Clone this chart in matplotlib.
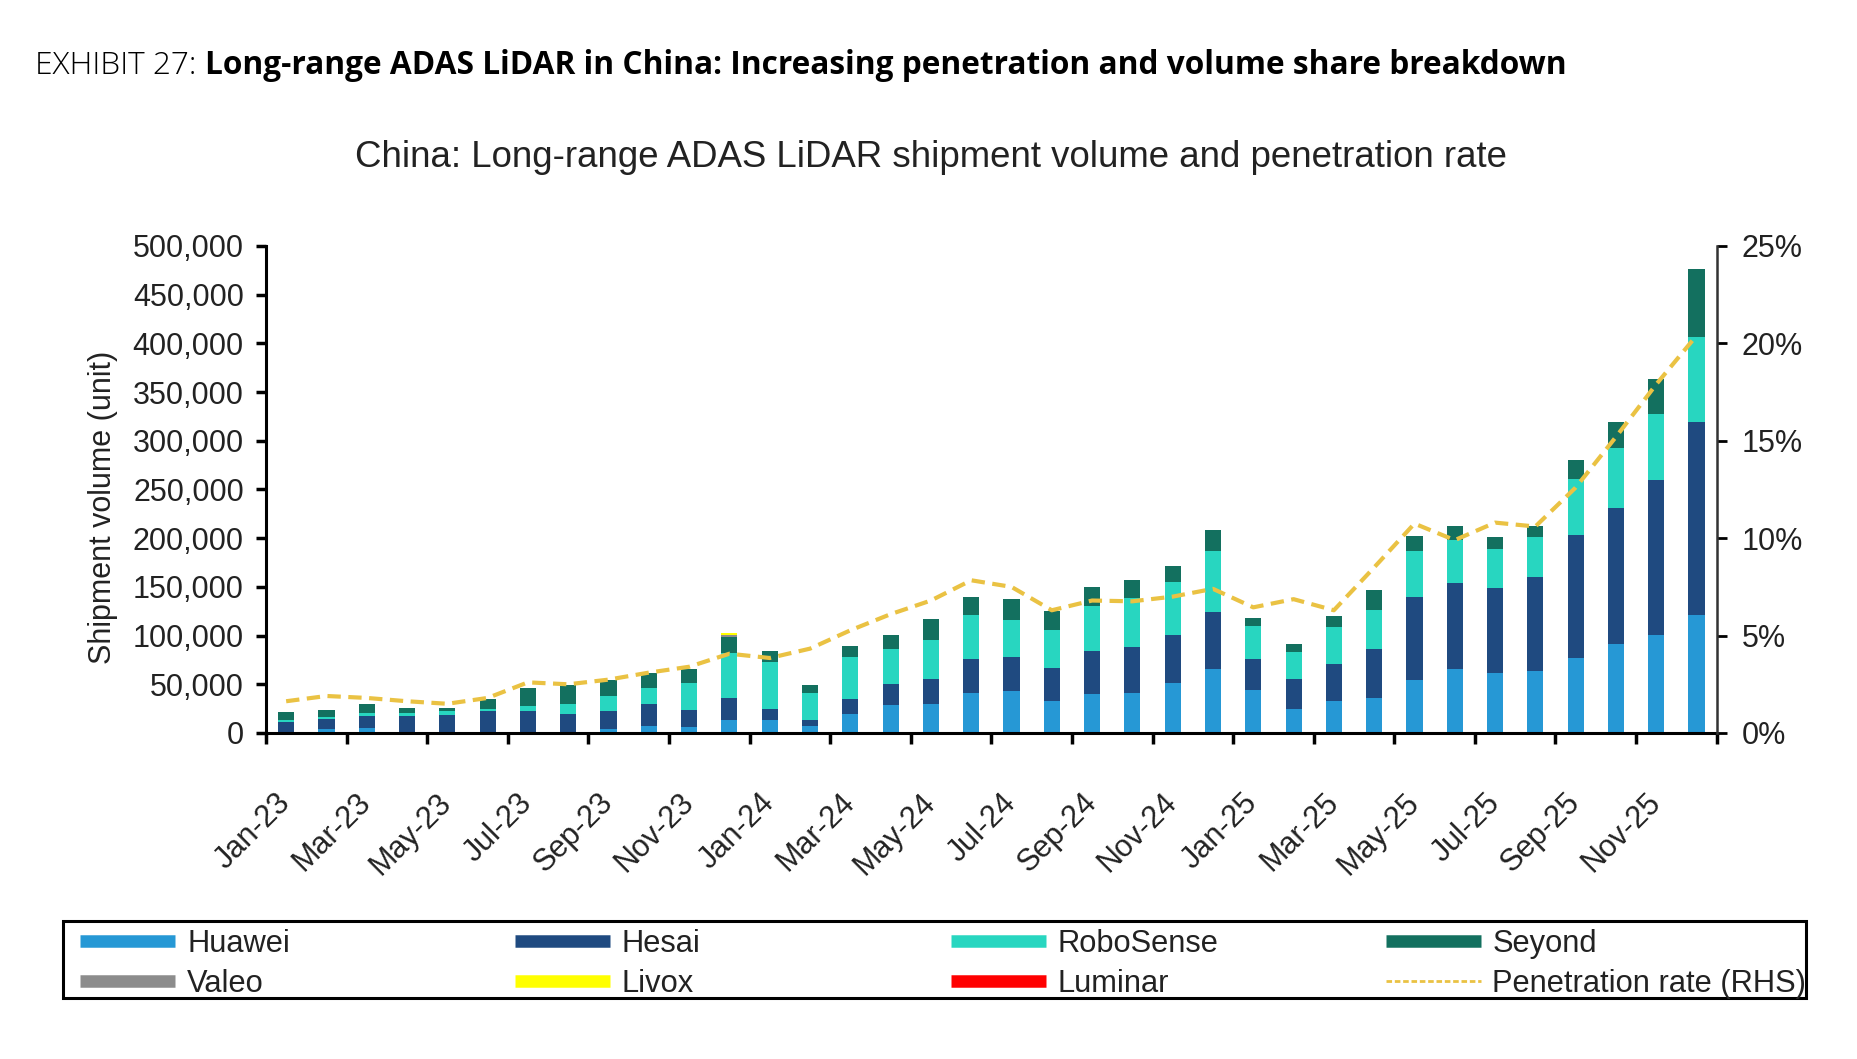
import numpy as np
import matplotlib
matplotlib.use("Agg")
import matplotlib.pyplot as plt
from matplotlib.lines import Line2D
from matplotlib.patches import Rectangle
from matplotlib.ticker import FuncFormatter, FixedLocator

# months Jan-23 .. Dec-25
months = [f"{m}-{y}" for y in ("23", "24", "25")
          for m in ("Jan", "Feb", "Mar", "Apr", "May", "Jun",
                    "Jul", "Aug", "Sep", "Oct", "Nov", "Dec")]

# shipment volume, thousand units
huawei = [1, 4, 5, 1.5, 1, 1, 1, 0.5, 4, 7, 6, 13.7,
          13.7, 6.8, 19.2, 29, 29.4, 41, 43.1, 32.9, 39.7, 41, 51.3, 65.7,
          43.8, 24.3, 32.5, 36.3, 54.8, 65.4, 61.9, 63.3, 77.3, 91, 100.3, 120.8]
hesai = [10, 10, 12, 16, 17, 21.5, 21.5, 19, 18.5, 23, 18, 22.5,
         10.6, 6.2, 15.7, 20.9, 25.7, 34.9, 34.9, 33.5, 44.5, 47.2, 48.9, 58.5,
         32.5, 30.8, 38.7, 50.3, 85.2, 88.3, 86.6, 96.9, 126.3, 140.3, 159.1, 198.5]
robosense = [2, 2, 4, 3.5, 4.5, 2.5, 5, 10, 15, 15.7, 27.7, 46,
             48.6, 28.4, 42.8, 36.3, 40, 44.8, 37.6, 39.7, 45.9, 50, 54.8, 62.3,
             33.5, 28.4, 37.6, 39.4, 46.5, 44.1, 40, 41.1, 56.8, 61.6, 67.8, 87.3]
seyond = [8.5, 8, 8.5, 5, 3.5, 10, 18.5, 19.5, 16.5, 15.5, 14.4, 16.5,
          11, 8.2, 12, 14.4, 22.2, 19.2, 21.6, 18.8, 19.8, 18.5, 16.4, 22.2,
          8.6, 7.5, 11, 21.2, 16.1, 15, 12.7, 11.6, 20.2, 26.4, 36.6, 69.8]
valeo = [0] * 11 + [1.8] + [0] * 24
livox = [0] * 11 + [2.5] + [0] * 24
luminar = [0] * 36

# penetration rate, %
penetration = [1.63, 1.9, 1.8, 1.63, 1.5, 1.8, 2.6, 2.5, 2.74, 3.1, 3.4, 4.07,
               3.85, 4.33, 5.27, 6.1, 6.8, 7.84, 7.5, 6.3, 6.8, 6.76, 7.0, 7.4,
               6.45, 6.87, 6.3, 8.5, 10.75, 9.9, 10.8, 10.6, 12.6, 15.2, 17.9, 20.4]

series = [("Huawei", huawei, "#2698D5"),
          ("Hesai", hesai, "#1F4A80"),
          ("RoboSense", robosense, "#28D6C0"),
          ("Seyond", seyond, "#13705F"),
          ("Valeo", valeo, "#8C8C8C"),
          ("Livox", livox, "#FFFF00"),
          ("Luminar", luminar, "#FF0000")]
line_col = "#EAC243"

plt.rcParams["font.family"] = ["Liberation Sans", "DejaVu Sans"]
txt_col = "#222222"

fig = plt.figure(figsize=(18.57, 10.59), dpi=100)
ax = fig.add_axes([0.14324, 0.30784, 0.7812, 0.45987])

x = np.arange(len(months))
bottom = np.zeros(len(months))
for name, vals, col in series:
    v = np.array(vals) * 1000
    ax.bar(x, v, 0.4, bottom=bottom, color=col, label=name, zorder=2)
    bottom += v

ax.set_xlim(-0.5, len(months) - 0.5)
ax.set_ylim(0, 500000)
ax.set_yticks(np.arange(0, 500001, 50000))
ax.yaxis.set_major_formatter(FuncFormatter(lambda v, p: f"{int(v):,}"))
ax.tick_params(axis="y", labelsize=22, labelcolor=txt_col, length=7, width=2.5, pad=9)

# ticks on category boundaries, labels on every second month
ax.xaxis.set_major_locator(FixedLocator(np.arange(-0.5, len(months), 2)))
ax.xaxis.set_minor_locator(FixedLocator(x[::2]))
ax.set_xticklabels([], minor=False)
ax.set_xticklabels(months[::2], minor=True)
ax.tick_params(axis="x", which="major", length=8, width=2.5)
ax.tick_params(axis="x", which="minor", length=0, pad=47, labelsize=22, labelcolor=txt_col)
for lab in ax.get_xticklabels(minor=True):
    lab.set_rotation(45)
    lab.set_ha("right")
    lab.set_va("center")
    lab.set_rotation_mode("anchor")

for s in ["top", "right"]:
    ax.spines[s].set_visible(False)
for s in ["left", "bottom"]:
    ax.spines[s].set_linewidth(2.2)

ax2 = ax.twinx()
ax2.plot(x, np.array(penetration) / 100, color=line_col, lw=3, dashes=(3.2, 1.8), zorder=3)
ax2.set_ylim(0, 0.25)
ax2.set_yticks(np.arange(0, 0.2501, 0.05))
ax2.yaxis.set_major_formatter(FuncFormatter(lambda v, p: f"{v * 100:.0f}%"))
ax2.tick_params(axis="y", labelsize=22, labelcolor=txt_col, length=7, width=2, pad=11)
for s in ["top", "left", "bottom"]:
    ax2.spines[s].set_visible(False)
ax2.spines["right"].set_linewidth(1.8)
ax2.spines["right"].set_color("#333333")

fig.text(0.0555, 0.521, "Shipment volume (unit)", rotation=90, fontsize=22,
         color=txt_col, ha="center", va="center")
fig.text(0.5013, 0.851, "China: Long-range ADAS LiDAR shipment volume and penetration rate",
         fontsize=26.4, color=txt_col, ha="center", va="center")

# header
t1 = fig.text(0.019, 0.938, "EXHIBIT 27: ", fontsize=22.8, family="Open Sans",
              weight="light", ha="left", va="center")
fig.canvas.draw()
bb = t1.get_window_extent()
fig.text(bb.x1 / fig.bbox.width, 0.938,
         "Long-range ADAS LiDAR in China: Increasing penetration and volume share breakdown",
         fontsize=22.8, family="Open Sans", weight="bold", ha="left", va="center")

# legend: frame + four columns
fig.patches.append(Rectangle((0.0339, 0.0576), 0.9386, 0.0727, transform=fig.transFigure,
                             fill=False, edgecolor="black", linewidth=2.2))
handles = [Line2D([], [], color=c, lw=9, solid_capstyle="butt") for _, _, c in series]
handles.append(Line2D([], [], color=line_col, lw=2, dashes=(2, 1)))
labels = [n for n, _, _ in series] + ["Penetration rate (RHS)"]
col_x = [0.0400, 0.2740, 0.5087, 0.7428]
for j in range(4):
    hs = [handles[j], handles[j + 4]]
    ls = [labels[j], labels[j + 4]]
    fig.legend(hs, ls, loc="upper left", bbox_to_anchor=(col_x[j], 0.1287),
               frameon=False, fontsize=22.2, handlelength=3.08, handletextpad=0.38,
               labelspacing=0.33, borderpad=0.2, borderaxespad=0, labelcolor=txt_col)

fig.savefig("out.png", dpi=100)
